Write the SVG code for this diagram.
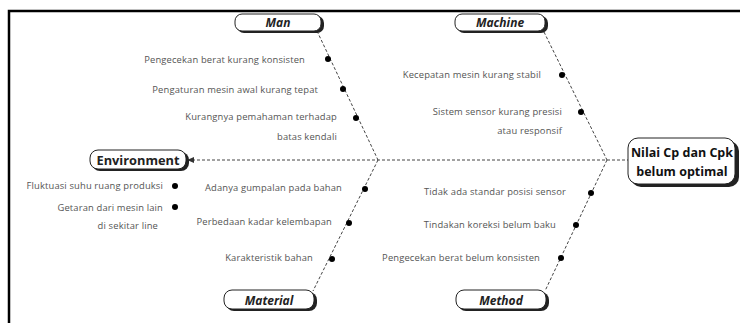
<svg xmlns="http://www.w3.org/2000/svg" width="740" height="323" viewBox="0 0 740 323">
<style>
.frame{fill:none;stroke:#000;stroke-width:2.5}
.bone{fill:none;stroke:#444;stroke-width:1;stroke-dasharray:3 2}
.dot{fill:#000}
.box{fill:#fff;stroke:#222;stroke-width:1}
.shadow{fill:#222}
.lbl{font-family:"Open Sans","DejaVu Sans",sans-serif;font-size:9.4px;letter-spacing:0.15px;fill:#555}
.hd{font-family:"Open Sans","DejaVu Sans",sans-serif;font-size:12px;font-weight:bold;font-style:italic;fill:#222;text-anchor:middle}
.eff{font-family:"Open Sans","DejaVu Sans",sans-serif;font-size:12.5px;font-weight:bold;fill:#111;text-anchor:middle}
</style>
<rect class="frame" x="9" y="11" width="745" height="330"/>
<g id="connectors">
<line class="bone" x1="192" y1="160" x2="628" y2="160"/>
<path d="M187 160 L194 157 L194 163 Z" fill="#333"/>
<line class="bone" x1="317" y1="31" x2="378" y2="160"/>
<line class="bone" x1="544" y1="32" x2="607" y2="160"/>
<line class="bone" x1="378" y1="160" x2="313" y2="291"/>
<line class="bone" x1="607" y1="160" x2="545" y2="291"/>
</g>
<g id="man">
<rect class="shadow" x="237" y="16" width="87" height="17" rx="7"/>
<rect class="box" x="235" y="14" width="86" height="17" rx="7"/>
<text class="hd" x="278" y="27">Man</text>
</g>
<g id="machine">
<rect class="shadow" x="457" y="16" width="91" height="17" rx="7"/>
<rect class="box" x="455" y="14" width="90" height="17" rx="7"/>
<text class="hd" x="500" y="27">Machine</text>
</g>
<g id="environment">
<rect class="shadow" x="92" y="152" width="97" height="19" rx="8"/>
<rect class="box" x="90" y="150" width="96" height="19" rx="8"/>
<text class="hd" x="138" y="164.5" style="font-style:normal;font-size:12.8px">Environment</text>
</g>
<g id="material">
<rect class="shadow" x="226" y="292" width="91" height="19" rx="8"/>
<rect class="box" x="224" y="290" width="90" height="19" rx="8"/>
<text class="hd" x="269" y="304.5">Material</text>
</g>
<g id="method">
<rect class="shadow" x="458" y="292" width="91" height="19" rx="8"/>
<rect class="box" x="456" y="290" width="90" height="19" rx="8"/>
<text class="hd" x="501" y="304.5">Method</text>
</g>
<g id="effect">
<rect class="shadow" x="631" y="141" width="108" height="46" rx="10"/>
<rect class="box" x="628" y="138" width="107" height="46" rx="10"/>
<text class="eff" x="682" y="157">Nilai Cp dan Cpk</text>
<text class="eff" x="682" y="176">belum optimal</text>
</g>
<g id="man-causes">
<circle class="dot" cx="328" cy="59" r="3"/>
<circle class="dot" cx="343" cy="89" r="3"/>
<circle class="dot" cx="356" cy="118" r="3"/>
<text class="lbl" x="305" y="63" text-anchor="end">Pengecekan berat kurang konsisten</text>
<text class="lbl" x="318" y="93" text-anchor="end">Pengaturan mesin awal kurang tepat</text>
<text class="lbl" x="337" y="120" text-anchor="end">Kurangnya pemahaman terhadap</text>
<text class="lbl" x="337" y="140" text-anchor="end">batas kendali</text>
</g>
<g id="machine-causes">
<circle class="dot" cx="562" cy="75" r="3"/>
<circle class="dot" cx="581" cy="112" r="3"/>
<text class="lbl" x="541" y="78" text-anchor="end">Kecepatan mesin kurang stabil</text>
<text class="lbl" x="562" y="115" text-anchor="end">Sistem sensor kurang presisi</text>
<text class="lbl" x="562" y="134" text-anchor="end">atau responsif</text>
</g>
<g id="environment-causes">
<circle class="dot" cx="175" cy="186" r="3"/>
<circle class="dot" cx="175" cy="207" r="3"/>
<text class="lbl" x="163" y="189" text-anchor="end">Fluktuasi suhu ruang produksi</text>
<text class="lbl" x="163" y="211" text-anchor="end">Getaran dari mesin lain</text>
<text class="lbl" x="158" y="229" text-anchor="end">di sekitar line</text>
</g>
<g id="material-causes">
<circle class="dot" cx="365" cy="189" r="3"/>
<circle class="dot" cx="349" cy="223" r="3"/>
<circle class="dot" cx="332" cy="259" r="3"/>
<text class="lbl" x="342" y="191" text-anchor="end">Adanya gumpalan pada bahan</text>
<text class="lbl" x="332" y="225" text-anchor="end">Perbedaan kadar kelembapan</text>
<text class="lbl" x="313" y="261" text-anchor="end">Karakteristik bahan</text>
</g>
<g id="method-causes">
<circle class="dot" cx="591" cy="193" r="3"/>
<circle class="dot" cx="576" cy="225" r="3"/>
<circle class="dot" cx="561" cy="258" r="3"/>
<text class="lbl" x="566" y="195" text-anchor="end">Tidak ada standar posisi sensor</text>
<text class="lbl" x="556" y="228" text-anchor="end">Tindakan koreksi belum baku</text>
<text class="lbl" x="540" y="261" text-anchor="end">Pengecekan berat belum konsisten</text>
</g>
</svg>
